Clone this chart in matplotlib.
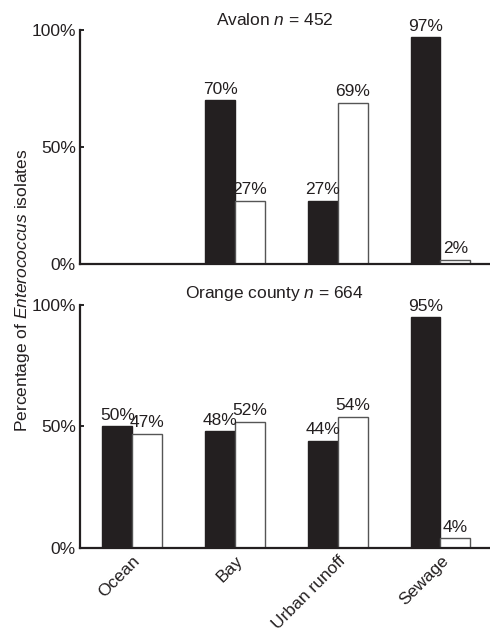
import matplotlib.pyplot as plt
import numpy as np

plt.rcParams["font.family"] = ["Liberation Sans", "DejaVu Sans"]
plt.rcParams["mathtext.fontset"] = "custom"
plt.rcParams["mathtext.it"] = "Liberation Sans:italic"
plt.rcParams["mathtext.rm"] = "Liberation Sans"

categories = ["Ocean", "Bay", "Urban runoff", "Sewage"]
avalon_dark = [None, 70, 27, 97]
avalon_light = [None, 27, 69, 2]
orange_dark = [50, 48, 44, 95]
orange_light = [47, 52, 54, 4]
titles = [r"Avalon $\it{n}$ = 452", r"Orange county $\it{n}$ = 664"]

dark = "#231f20"
fs = 12.5
w = 0.29

fig = plt.figure(figsize=(4.9, 6.29), dpi=100)
ax1 = fig.add_axes([0.163, 0.580, 0.845, 0.372])
ax2 = fig.add_axes([0.163, 0.129, 0.845, 0.386])

x = np.arange(len(categories))

for ax, d, l, title in [(ax1, avalon_dark, avalon_light, titles[0]),
                        (ax2, orange_dark, orange_light, titles[1])]:
    for i in range(len(categories)):
        if d[i] is None:
            continue
        ax.bar(x[i] - w / 2, d[i], w, color=dark, edgecolor=dark, lw=1)
        ax.bar(x[i] + w / 2, l[i], w, color="white", edgecolor="#555555", lw=1)
        ax.text(x[i] - w / 2, d[i] + 1.5, f"{d[i]}%", ha="center", va="bottom",
                fontsize=fs, color=dark)
        ax.text(x[i] + w / 2, l[i] + 1.5, f"{l[i]}%", ha="center", va="bottom",
                fontsize=fs, color=dark)
    ax.set_xlim(-0.51, 3.52)
    ax.set_ylim(0, 100)
    ax.set_yticks([0, 50, 100])
    ax.set_yticklabels(["0%", "50%", "100%"], fontsize=fs, color=dark)
    for s in ["top", "right"]:
        ax.spines[s].set_visible(False)
    for s in ["left", "bottom"]:
        ax.spines[s].set_linewidth(1.6)
        ax.spines[s].set_color(dark)
    ax.tick_params(axis="y", direction="in", length=3, width=1.2, pad=3)
    ax.tick_params(axis="x", length=0)
    ax.text(0.47, 1.01, title, transform=ax.transAxes, ha="center",
            va="bottom", fontsize=fs, color=dark)

ax1.set_xticks([])
ax2.set_xticks(x)
ax2.set_xticklabels(categories, rotation=45, ha="right",
                    rotation_mode="anchor", fontsize=fs, color=dark)
ax2.tick_params(axis="x", pad=4)

fig.text(0.045, 0.539, r"Percentage of $\it{Enterococcus}$ isolates",
         rotation=90, ha="center", va="center", fontsize=fs, color=dark)

plt.savefig("out.png", dpi=100)
print("Saved to out.png")
